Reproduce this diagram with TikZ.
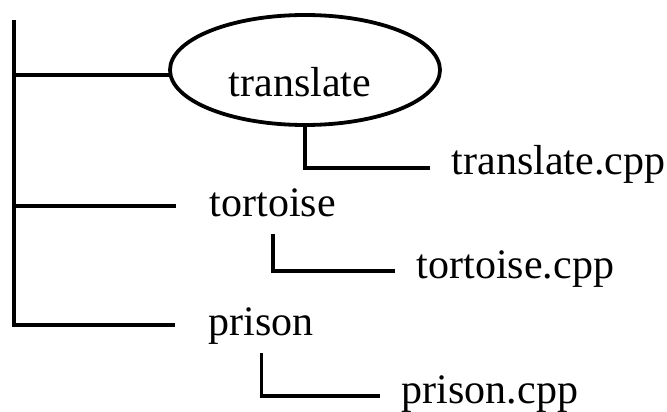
\documentclass[tikz,border=0pt]{standalone}
\usepackage{fontspec}
\setmainfont{Liberation Serif}
\usetikzlibrary{shapes.geometric}

\begin{document}
\begin{tikzpicture}[x=0.5pt,y=-0.5pt,line width=1.9pt,
        every node/.style={font=\fontsize{21}{25}\selectfont},
        dirname/.style={anchor=base west,inner xsep=16pt,inner ysep=8pt,text height=1em,text depth=0pt},
        filename/.style={anchor=base west,inner xsep=10pt,inner ysep=0pt,text height=0.7em,text depth=0pt}]
    \useasboundingbox (0,0) rectangle (667,411);

    \node[draw,ellipse,minimum width=135pt,minimum height=55pt,inner sep=0pt] (transl) at (305,70) {};
    \node[anchor=base west,inner sep=0pt] (transltext) at (227,97) {translate};
    \node[filename] (translcpp) at (430,175) {translate.cpp};

    \node[dirname] (tort) at (176,216) {tortoise};
    \node[filename] (tortcpp) at (395,278) {tortoise.cpp};

    \node[dirname] (prison) at (175,335) {prison};
    \node[filename] (prisoncpp) at (380,403) {prison.cpp};

    \coordinate (root) at (14,20);

    \draw (root) |- (prison.west);
    \draw (root |- transl.182) -- (transl.182);
    \draw (root |- tort.west) -- (tort.west);

    \draw (transl.south) |- (translcpp.west);
    \draw (tort.south) |- (tortcpp.west);
    \draw (prison.south) |- (prisoncpp.west);
\end{tikzpicture}
\end{document}
